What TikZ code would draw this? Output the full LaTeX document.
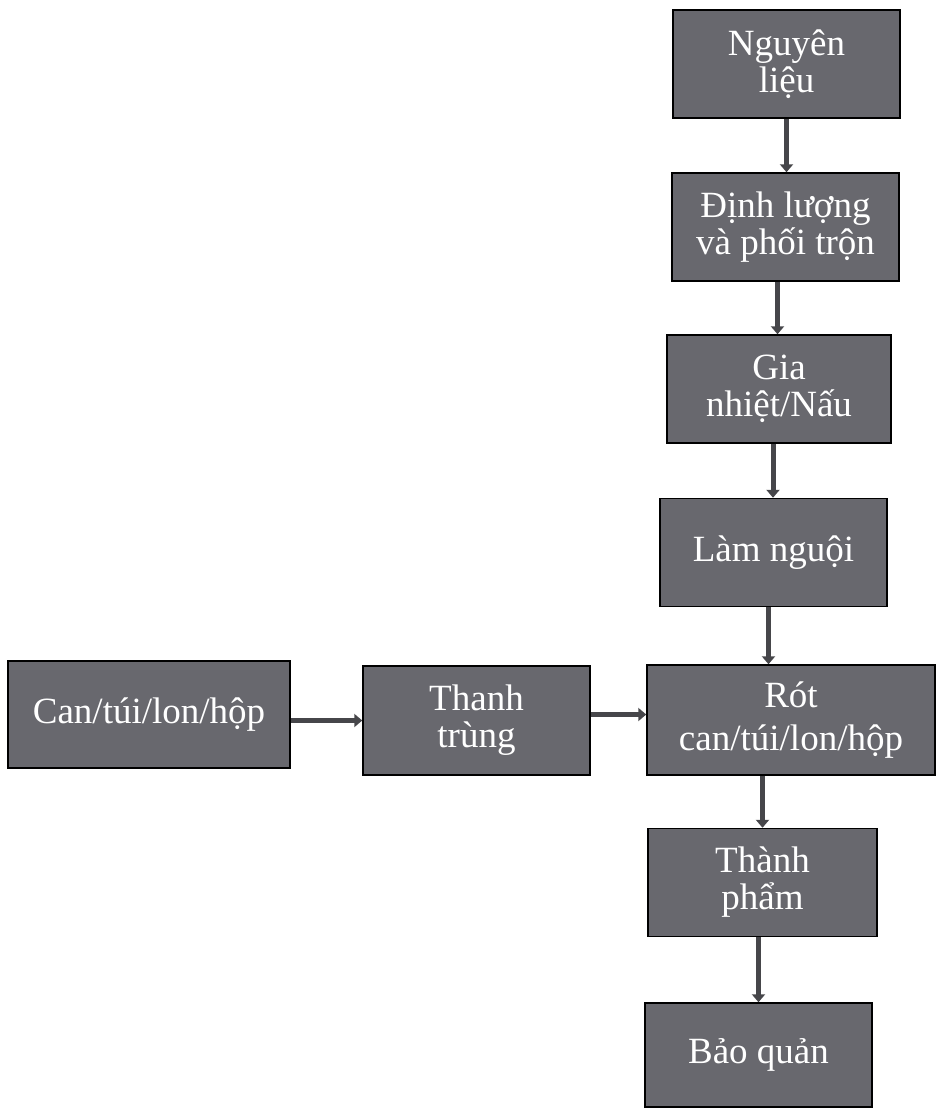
\documentclass[tikz,border=0pt]{standalone}
\usepackage{fontspec}
\setmainfont{Liberation Serif}
\usetikzlibrary{arrows.meta}
\begin{document}
\begin{tikzpicture}[x=1pt,y=-1pt]
\tikzstyle{Block} = [draw=black, fill={rgb,255:red,104;green,104;blue,110}, text=white, line width=1.5, minimum width=227, minimum height=108, inner sep=2, align=center, font={\fontsize{37}{37}\selectfont}]
\tikzstyle{Arr} = [draw={rgb,255:red,70;green,70;blue,74}, line width=5, -{Triangle[length=8,width=13]}]
\useasboundingbox (0,0) rectangle (937,1111);
\node [Block] (v1) at (786.5,64) {Nguyên\\liệu};
\node [Block] (v2) at (785.5,227) {Định lượng\\và phối trộn};
\node [Block, minimum width=224] (v3) at (779,389) {Gia\\nhiệt/Nấu};
\node [Block] (v4) at (773.5,552.5) {Làm nguội};
\node [Block, minimum width=288, minimum height=110] (v5) at (791,720) {Rót\\[6pt]can/túi/lon/hộp};
\node [Block, minimum width=229] (v6) at (762.5,882.5) {Thành\\phẩm};
\node [Block, minimum height=104] (v7) at (758.5,1055) {Bảo quản};
\node [Block, minimum width=282, minimum height=107] (v8) at (149,714.5) {Can/túi/lon/hộp};
\node [Block, minimum height=109] (v9) at (476.5,720.5) {Thanh\\trùng};
\draw [Arr] (v1.south) -- (v1.south |- v2.north);
\draw [Arr] ([xshift=-8]v2.south) -- ([xshift=-8]v2.south |- v3.north);
\draw [Arr] ([xshift=-6]v3.south) -- ([xshift=-6]v3.south |- v4.north);
\draw [Arr] ([xshift=-5]v4.south) -- ([xshift=-5]v4.south |- v5.north);
\draw [Arr] (v6.north |- v5.south) -- (v6.north);
\draw [Arr] (v7.north |- v6.south) -- (v7.north);
\draw [Arr] (v8.east |- v9.west) -- (v9.west);
\draw [Arr] ([yshift=6]v9.east) -- ([yshift=6]v9.east -| v5.west);
\end{tikzpicture}
\end{document}
